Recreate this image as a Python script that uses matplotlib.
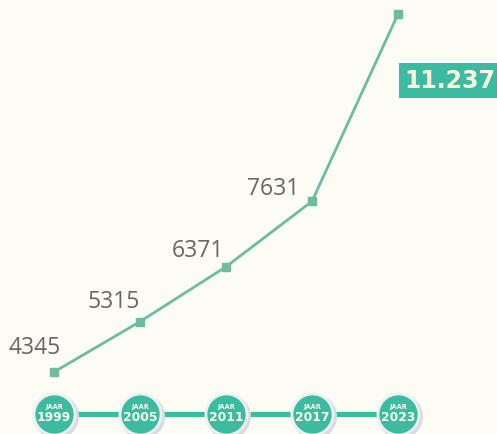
import matplotlib
matplotlib.use("Agg")
import matplotlib.pyplot as plt
import matplotlib.transforms as mtransforms

years = [1999, 2005, 2011, 2017, 2023]
values = [4345, 5315, 6371, 7631, 11237]
value_labels = ["4345", "5315", "6371", "7631", "11.237"]

BG = "#fcfcf4"
LINE = "#6dbba0"
TEAL = "#3dbba0"
GRAY = "#666666"

fig = plt.figure(figsize=(4.97, 4.34), dpi=100, facecolor=BG)
ax = fig.add_axes([0, 0, 1, 1], facecolor=BG)
ax.set_xlim(1995.233, 2029.907)
ax.set_ylim(3151.4, 11506.5)
ax.axis("off")

ax.plot(years, values, color=LINE, lw=2, marker="s", ms=6, zorder=3)

# labels for the first four points
offsets = [(-19, 24), (-26, 20), (-28, 16), (-39, 12)]
for (yr, v, lab), (dx, dy) in zip(zip(years[:4], values[:4], value_labels[:4]), offsets):
    ax.annotate(lab, (yr, v), xytext=(dx * 0.72, dy * 0.72), textcoords="offset points",
                ha="center", va="center", fontsize=16.5, color=GRAY,
                family=["Open Sans", "DejaVu Sans"])

# highlighted last value
ax.annotate(value_labels[4], (years[4], values[4]), xytext=(37, -48), textcoords="offset points",
            ha="center", va="center", fontsize=17, fontweight="bold", color="#fbf6dc",
            family=["DejaVu Sans"],
            bbox=dict(boxstyle="square,pad=0.22", fc=TEAL, ec="none"))

# timeline at the bottom
ty = 3151.4 + (434 - 414) / 0.051944
ax.plot([years[0], years[-1]], [ty, ty], color=TEAL, lw=3.8, zorder=2, solid_capstyle="butt")
shadow = mtransforms.offset_copy(ax.transData, fig=fig, x=1.5, y=-1.5, units="points")
ax.scatter(years, [ty] * len(years), s=1050, color="#d8dcdc", zorder=3, transform=shadow, linewidths=0)
ax.scatter(years, [ty] * len(years), s=1000, color="#eef1f1", zorder=4, linewidths=0)
ax.scatter(years, [ty] * len(years), s=760, color=TEAL, zorder=5, linewidths=0)
for yr in years:
    ax.annotate("JAAR", (yr, ty), xytext=(0, 4.8), textcoords="offset points",
                ha="center", va="center", fontsize=4.8, fontweight="bold", color="#fbf8e8", zorder=6)
    ax.annotate(str(yr), (yr, ty), xytext=(0, -2.5), textcoords="offset points",
                ha="center", va="center", fontsize=8.8, fontweight="bold", color="#fbf8e8", zorder=6)

fig.savefig("out.png", dpi=100, facecolor=BG)
